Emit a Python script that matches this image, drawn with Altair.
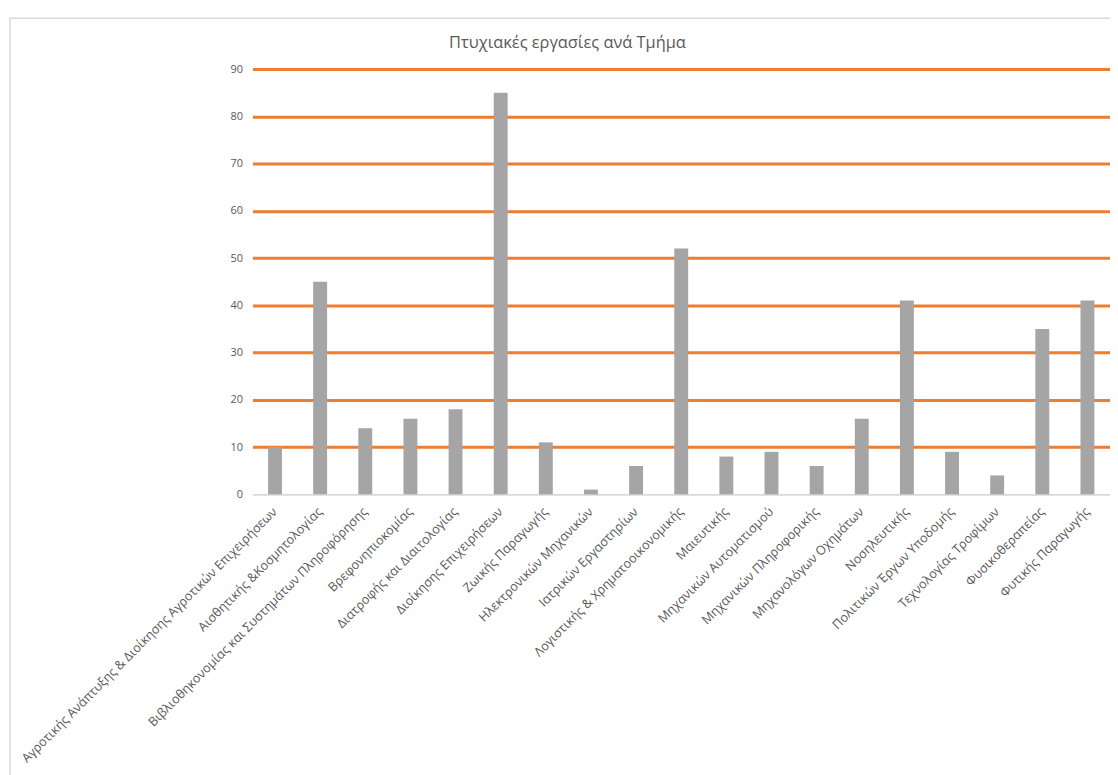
import altair as alt
import pandas as pd

categories = [
    "Αγροτικής Ανάπτυξης & Διοίκησης Αγροτικών Επιχειρήσεων",
    "Αισθητικής &Κοσμητολογίας",
    "Βιβλιοθηκονομίας και Συστημάτων Πληροφόρησης",
    "Βρεφονηπιοκομίας",
    "Διατροφής και Διαιτολογίας",
    "Διοίκησης Επιχειρήσεων",
    "Ζωικής Παραγωγής",
    "Ηλεκτρονικών Μηχανικών",
    "Ιατρικών Εργαστηρίων",
    "Λογιστικής & Χρηματοοικονομικής",
    "Μαιευτικής",
    "Μηχανικών Αυτοματισμού",
    "Μηχανικών Πληροφορικής",
    "Μηχανολόγων Οχημάτων",
    "Νοσηλευτικής",
    "Πολιτικών Έργων Υποδομής",
    "Τεχνολογίας Τροφίμων",
    "Φυσικοθεραπείας",
    "Φυτικής Παραγωγής",
]
values = [10, 45, 14, 16, 18, 85, 11, 1, 6, 52, 8, 9, 6, 16, 41, 9, 4, 35, 41]
y_ticks = [0, 10, 20, 30, 40, 50, 60, 70, 80, 90]
title_text = "Πτυχιακές εργασίες ανά Τμήμα"

df = pd.DataFrame({"Τμήμα": categories, "Εργασίες": values})

FONT = "Open Sans"
TXT = "#595959"

bars = alt.Chart(df).mark_bar(color="#A5A5A5", size=14).encode(
    x=alt.X(
        "Τμήμα:N",
        sort=categories,
        title=None,
        scale=alt.Scale(paddingInner=0, paddingOuter=0),
        axis=alt.Axis(
            labelAngle=-45,
            labelAlign="right",
            labelBaseline="middle",
            labelPadding=15,
            labelFont=FONT,
            labelFontSize=12.7,
            labelColor=TXT,
            labelLimit=1000,
            ticks=False,
            domain=True,
            domainColor="#D9D9D9",
            domainWidth=1.5,
            grid=False,
            labelOverlap=False,
        ),
    ),
    y=alt.Y(
        "Εργασίες:Q",
        title=None,
        scale=alt.Scale(domain=[0, 90], nice=False),
        axis=alt.Axis(
            values=y_ticks,
            ticks=False,
            domain=False,
            labelFont=FONT,
            labelFontSize=11,
            labelColor=TXT,
            labelPadding=10,
            grid=True,
            gridColor={"condition": {"test": "datum.value === 0", "value": "#D9D9D9"}, "value": "#ED7D31"},
            gridWidth={"condition": {"test": "datum.value === 0", "value": 1.5}, "value": 3},
        ),
    ),
)

frame = alt.Chart(alt.Data(values=[{}])).mark_rect(
    fillOpacity=0, stroke="#D9D9D9", strokeWidth=1.5
).encode(
    x=alt.value(-244), x2=alt.value(890),
    y=alt.value(-51), y2=alt.value(740),
)

title = alt.Chart(alt.Data(values=[{"t": title_text}])).mark_text(
    font=FONT, fontSize=16.5, color=TXT, align="center", baseline="middle"
).encode(
    text="t:N",
    x=alt.value(317),
    y=alt.value(-26),
)

chart = alt.layer(frame, bars, title).properties(
    width=863,
    height=428,
    autosize=alt.AutoSizeParams(type="none"),
    padding={"left": 246, "top": 59, "right": 0, "bottom": 280},
).configure_view(stroke=None)

chart.save("out.html", embed_options={"renderer": "svg", "actions": False})
